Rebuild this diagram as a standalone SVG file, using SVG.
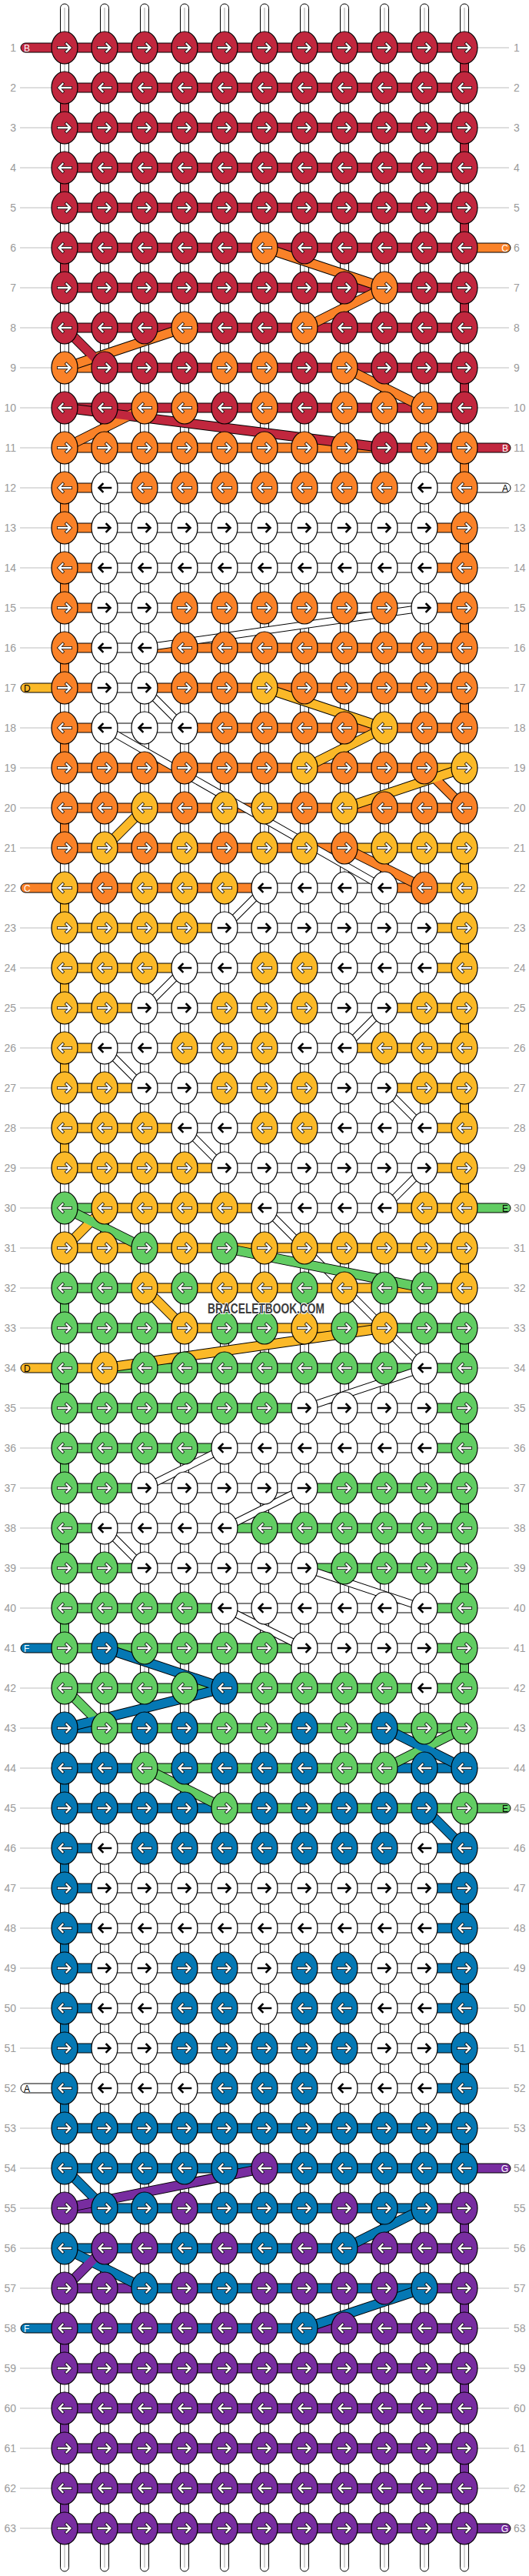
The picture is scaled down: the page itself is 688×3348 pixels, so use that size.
<svg xmlns="http://www.w3.org/2000/svg" xmlns:xlink="http://www.w3.org/1999/xlink" width="688" height="3348" viewBox="0 0 688 3348">
<style>
text{font-family:"Liberation Sans",Arial,sans-serif}
.n{font-size:14px;fill:#9a9a9a}
.nl{text-anchor:end}
.xl{font-size:12px}
.R{fill:#c1273e}.O{fill:#fa8228}.Y{fill:#fbb928}.G{fill:#62cd63}.B{fill:#0578b4}.P{fill:#782da0}.W{fill:#fff}
#weft rect{stroke:#000;stroke-width:1}
.dk{fill:none;stroke:#000;stroke-width:13}
.dc{fill:none;stroke-width:11}
</style>
<defs>
<path id="a" d="M-8,0H6.5M2.5,-5L7.5,0L2.5,5" fill="none" stroke-linecap="square" stroke-linejoin="miter"/>
<g id="aw"><use href="#a" stroke="#000" stroke-width="3.8"/><use href="#a" stroke="#fff" stroke-width="2.3"/></g>
<g id="ab"><use href="#a" stroke="#000" stroke-width="2.6"/></g>
<ellipse id="e" rx="17" ry="21" stroke="#000" stroke-width="1.2"/>
<g id="R1" class="R"><use href="#e"/><use href="#aw"/></g>
<g id="R2" class="R"><use href="#e"/><use href="#aw" transform="scale(-1,1)"/></g>
<g id="O1" class="O"><use href="#e"/><use href="#aw"/></g>
<g id="O2" class="O"><use href="#e"/><use href="#aw" transform="scale(-1,1)"/></g>
<g id="Y1" class="Y"><use href="#e"/><use href="#aw"/></g>
<g id="Y2" class="Y"><use href="#e"/><use href="#aw" transform="scale(-1,1)"/></g>
<g id="G1" class="G"><use href="#e"/><use href="#aw"/></g>
<g id="G2" class="G"><use href="#e"/><use href="#aw" transform="scale(-1,1)"/></g>
<g id="B1" class="B"><use href="#e"/><use href="#aw"/></g>
<g id="B2" class="B"><use href="#e"/><use href="#aw" transform="scale(-1,1)"/></g>
<g id="P1" class="P"><use href="#e"/><use href="#aw"/></g>
<g id="P2" class="P"><use href="#e"/><use href="#aw" transform="scale(-1,1)"/></g>
<g id="W1" class="W"><use href="#e"/><use href="#ab"/></g>
<g id="W2" class="W"><use href="#e"/><use href="#ab" transform="scale(-1,1)"/></g>
<g id="wp"><rect x="-5.5" y="5" width="11" height="3337" rx="5.5" fill="#fff" stroke="#000"/><path d="M0,10V3337" stroke="#c4c4c4" stroke-width="1.5"/></g>
<rect id="es" x="-5.5" y="0" width="11" height="52" stroke="#000"/>
</defs>
<rect width="688" height="3348" fill="#fff"/>
<g id="labels">
<path d="M26,114H67M26,166H67M26,218H67M26,270H67M26,322H67M26,374H67M26,426H67M26,478H67M26,530H67M26,582H67M26,634H67M26,686H67M26,738H67M26,790H67M26,842H67M26,946H67M26,998H67M26,1050H67M26,1102H67M26,1206H67M26,1258H67M26,1310H67M26,1362H67M26,1414H67M26,1466H67M26,1518H67M26,1570H67M26,1622H67M26,1674H67M26,1726H67M26,1830H67M26,1882H67M26,1934H67M26,1986H67M26,2038H67M26,2090H67M26,2194H67M26,2246H67M26,2298H67M26,2350H67M26,2402H67M26,2454H67M26,2506H67M26,2558H67M26,2610H67M26,2662H67M26,2766H67M26,2818H67M26,2870H67M26,2922H67M26,2974H67M26,3078H67M26,3130H67M26,3182H67M26,3234H67M26,3286H67" stroke="#bdbdbd" stroke-width="1"/>
<path d="M621,62H662M621,114H662M621,166H662M621,218H662M621,270H662M621,374H662M621,426H662M621,478H662M621,530H662M621,686H662M621,738H662M621,790H662M621,842H662M621,894H662M621,946H662M621,998H662M621,1050H662M621,1102H662M621,1154H662M621,1206H662M621,1258H662M621,1310H662M621,1362H662M621,1414H662M621,1466H662M621,1518H662M621,1622H662M621,1674H662M621,1726H662M621,1778H662M621,1830H662M621,1882H662M621,1934H662M621,1986H662M621,2038H662M621,2090H662M621,2142H662M621,2194H662M621,2246H662M621,2298H662M621,2402H662M621,2454H662M621,2506H662M621,2558H662M621,2610H662M621,2662H662M621,2714H662M621,2766H662M621,2922H662M621,2974H662M621,3026H662M621,3078H662M621,3130H662M621,3182H662M621,3234H662" stroke="#bdbdbd" stroke-width="1"/>
<g class="n nl">
<text x="21" y="67">1</text><text x="21" y="119">2</text><text x="21" y="171">3</text><text x="21" y="223">4</text><text x="21" y="275">5</text><text x="21" y="327">6</text><text x="21" y="379">7</text><text x="21" y="431">8</text><text x="21" y="483">9</text><text x="21" y="535">10</text><text x="21" y="587">11</text><text x="21" y="639">12</text><text x="21" y="691">13</text><text x="21" y="743">14</text><text x="21" y="795">15</text><text x="21" y="847">16</text><text x="21" y="899">17</text><text x="21" y="951">18</text><text x="21" y="1003">19</text><text x="21" y="1055">20</text><text x="21" y="1107">21</text><text x="21" y="1159">22</text><text x="21" y="1211">23</text><text x="21" y="1263">24</text><text x="21" y="1315">25</text><text x="21" y="1367">26</text><text x="21" y="1419">27</text><text x="21" y="1471">28</text><text x="21" y="1523">29</text><text x="21" y="1575">30</text><text x="21" y="1627">31</text><text x="21" y="1679">32</text><text x="21" y="1731">33</text><text x="21" y="1783">34</text><text x="21" y="1835">35</text><text x="21" y="1887">36</text><text x="21" y="1939">37</text><text x="21" y="1991">38</text><text x="21" y="2043">39</text><text x="21" y="2095">40</text><text x="21" y="2147">41</text><text x="21" y="2199">42</text><text x="21" y="2251">43</text><text x="21" y="2303">44</text><text x="21" y="2355">45</text><text x="21" y="2407">46</text><text x="21" y="2459">47</text><text x="21" y="2511">48</text><text x="21" y="2563">49</text><text x="21" y="2615">50</text><text x="21" y="2667">51</text><text x="21" y="2719">52</text><text x="21" y="2771">53</text><text x="21" y="2823">54</text><text x="21" y="2875">55</text><text x="21" y="2927">56</text><text x="21" y="2979">57</text><text x="21" y="3031">58</text><text x="21" y="3083">59</text><text x="21" y="3135">60</text><text x="21" y="3187">61</text><text x="21" y="3239">62</text><text x="21" y="3291">63</text>
</g>
<g class="n">
<text x="668" y="67">1</text><text x="668" y="119">2</text><text x="668" y="171">3</text><text x="668" y="223">4</text><text x="668" y="275">5</text><text x="668" y="327">6</text><text x="668" y="379">7</text><text x="668" y="431">8</text><text x="668" y="483">9</text><text x="668" y="535">10</text><text x="668" y="587">11</text><text x="668" y="639">12</text><text x="668" y="691">13</text><text x="668" y="743">14</text><text x="668" y="795">15</text><text x="668" y="847">16</text><text x="668" y="899">17</text><text x="668" y="951">18</text><text x="668" y="1003">19</text><text x="668" y="1055">20</text><text x="668" y="1107">21</text><text x="668" y="1159">22</text><text x="668" y="1211">23</text><text x="668" y="1263">24</text><text x="668" y="1315">25</text><text x="668" y="1367">26</text><text x="668" y="1419">27</text><text x="668" y="1471">28</text><text x="668" y="1523">29</text><text x="668" y="1575">30</text><text x="668" y="1627">31</text><text x="668" y="1679">32</text><text x="668" y="1731">33</text><text x="668" y="1783">34</text><text x="668" y="1835">35</text><text x="668" y="1887">36</text><text x="668" y="1939">37</text><text x="668" y="1991">38</text><text x="668" y="2043">39</text><text x="668" y="2095">40</text><text x="668" y="2147">41</text><text x="668" y="2199">42</text><text x="668" y="2251">43</text><text x="668" y="2303">44</text><text x="668" y="2355">45</text><text x="668" y="2407">46</text><text x="668" y="2459">47</text><text x="668" y="2511">48</text><text x="668" y="2563">49</text><text x="668" y="2615">50</text><text x="668" y="2667">51</text><text x="668" y="2719">52</text><text x="668" y="2771">53</text><text x="668" y="2823">54</text><text x="668" y="2875">55</text><text x="668" y="2927">56</text><text x="668" y="2979">57</text><text x="668" y="3031">58</text><text x="668" y="3083">59</text><text x="668" y="3135">60</text><text x="668" y="3187">61</text><text x="668" y="3239">62</text><text x="668" y="3291">63</text>
</g>
</g>
<g id="strands">
<g id="warp"><use href="#wp" x="84"/><use href="#wp" x="136"/><use href="#wp" x="188"/><use href="#wp" x="240"/><use href="#wp" x="292"/><use href="#wp" x="344"/><use href="#wp" x="396"/><use href="#wp" x="448"/><use href="#wp" x="500"/><use href="#wp" x="552"/><use href="#wp" x="604"/></g>
<g id="edges">
<use href="#es" class="R" x="604" y="62"/><use href="#es" class="R" x="84" y="114"/><use href="#es" class="R" x="604" y="166"/><use href="#es" class="R" x="84" y="218"/><use href="#es" class="R" x="604" y="270"/><use href="#es" class="R" x="84" y="322"/><use href="#es" class="R" x="604" y="374"/><use href="#es" class="R" x="604" y="478"/>
<use href="#es" class="O" x="604" y="582"/><use href="#es" class="O" x="84" y="634"/><use href="#es" class="O" x="604" y="686"/><use href="#es" class="O" x="84" y="738"/><use href="#es" class="O" x="604" y="790"/><use href="#es" class="O" x="84" y="842"/><use href="#es" class="O" x="604" y="894"/><use href="#es" class="O" x="84" y="946"/><use href="#es" class="O" x="84" y="1050"/>
<use href="#es" class="Y" x="604" y="1102"/><use href="#es" class="Y" x="84" y="1154"/><use href="#es" class="Y" x="604" y="1206"/><use href="#es" class="Y" x="84" y="1258"/><use href="#es" class="Y" x="604" y="1310"/><use href="#es" class="Y" x="84" y="1362"/><use href="#es" class="Y" x="604" y="1414"/><use href="#es" class="Y" x="84" y="1466"/><use href="#es" class="Y" x="604" y="1518"/><use href="#es" class="Y" x="604" y="1622"/>
<use href="#es" class="G" x="84" y="1674"/><use href="#es" class="G" x="604" y="1726"/><use href="#es" class="G" x="84" y="1778"/><use href="#es" class="G" x="604" y="1830"/><use href="#es" class="G" x="84" y="1882"/><use href="#es" class="G" x="604" y="1934"/><use href="#es" class="G" x="84" y="1986"/><use href="#es" class="G" x="604" y="2038"/><use href="#es" class="G" x="84" y="2090"/><use href="#es" class="G" x="604" y="2142"/>
<use href="#es" class="B" x="84" y="2298"/><use href="#es" class="B" x="84" y="2402"/><use href="#es" class="B" x="604" y="2454"/><use href="#es" class="B" x="84" y="2506"/><use href="#es" class="B" x="604" y="2558"/><use href="#es" class="B" x="84" y="2610"/><use href="#es" class="B" x="604" y="2662"/><use href="#es" class="B" x="84" y="2714"/><use href="#es" class="B" x="604" y="2766"/>
<use href="#es" class="P" x="604" y="2870"/><use href="#es" class="P" x="604" y="2974"/><use href="#es" class="P" x="84" y="3026"/><use href="#es" class="P" x="604" y="3078"/><use href="#es" class="P" x="84" y="3130"/><use href="#es" class="P" x="604" y="3182"/><use href="#es" class="P" x="84" y="3234"/>
</g>
<g id="weft">
<rect class="R" x="27" y="56" width="70" height="12" rx="6"/>
<rect class="O" x="591" y="316" width="73" height="12" rx="6"/>
<rect class="R" x="591" y="576" width="73" height="12" rx="6"/>
<rect class="W" x="591" y="628" width="73" height="12" rx="6"/>
<rect class="Y" x="27" y="888" width="70" height="12" rx="6"/>
<rect class="O" x="27" y="1148" width="70" height="12" rx="6"/>
<rect class="G" x="591" y="1564" width="73" height="12" rx="6"/>
<rect class="Y" x="27" y="1772" width="70" height="12" rx="6"/>
<rect class="B" x="27" y="2136" width="70" height="12" rx="6"/>
<rect class="G" x="591" y="2344" width="73" height="12" rx="6"/>
<rect class="W" x="27" y="2708" width="70" height="12" rx="6"/>
<rect class="P" x="591" y="2812" width="73" height="12" rx="6"/>
<rect class="B" x="27" y="3020" width="70" height="12" rx="6"/>
<rect class="P" x="591" y="3280" width="73" height="12" rx="6"/>
<rect class="R" x="84" y="56" width="520" height="12"/>
<rect class="R" x="84" y="108" width="520" height="12"/>
<rect class="R" x="84" y="160" width="520" height="12"/>
<rect class="R" x="84" y="212" width="520" height="12"/>
<rect class="R" x="84" y="264" width="520" height="12"/>
<rect class="R" x="84" y="316" width="520" height="12"/>
<rect class="R" x="84" y="368" width="520" height="12"/>
<rect class="R" x="84" y="420" width="520" height="12"/>
<rect class="O" x="84" y="472" width="52" height="12"/><rect class="R" x="136" y="472" width="468" height="12"/>
<rect class="R" x="84" y="524" width="520" height="12"/>
<rect class="O" x="84" y="576" width="416" height="12"/><rect class="R" x="500" y="576" width="104" height="12"/>
<rect class="O" x="84" y="628" width="52" height="12"/><rect class="W" x="136" y="628" width="468" height="12"/>
<rect class="O" x="84" y="680" width="52" height="12"/><rect class="W" x="136" y="680" width="416" height="12"/><rect class="O" x="552" y="680" width="52" height="12"/>
<rect class="O" x="84" y="732" width="52" height="12"/><rect class="W" x="136" y="732" width="416" height="12"/><rect class="O" x="552" y="732" width="52" height="12"/>
<rect class="O" x="84" y="784" width="52" height="12"/><rect class="W" x="136" y="784" width="416" height="12"/><rect class="O" x="552" y="784" width="52" height="12"/>
<rect class="O" x="84" y="836" width="52" height="12"/><rect class="W" x="136" y="836" width="52" height="12"/><rect class="O" x="188" y="836" width="416" height="12"/>
<rect class="O" x="84" y="888" width="52" height="12"/><rect class="W" x="136" y="888" width="52" height="12"/><rect class="O" x="188" y="888" width="416" height="12"/>
<rect class="O" x="84" y="940" width="52" height="12"/><rect class="W" x="136" y="940" width="104" height="12"/><rect class="O" x="240" y="940" width="364" height="12"/>
<rect class="O" x="84" y="992" width="468" height="12"/><rect class="Y" x="552" y="992" width="52" height="12"/>
<rect class="O" x="84" y="1044" width="520" height="12"/>
<rect class="O" x="84" y="1096" width="364" height="12"/><rect class="Y" x="448" y="1096" width="156" height="12"/>
<rect class="O" x="84" y="1148" width="260" height="12"/><rect class="W" x="344" y="1148" width="156" height="12"/><rect class="O" x="500" y="1148" width="52" height="12"/><rect class="Y" x="552" y="1148" width="52" height="12"/>
<rect class="Y" x="84" y="1200" width="208" height="12"/><rect class="W" x="292" y="1200" width="260" height="12"/><rect class="Y" x="552" y="1200" width="52" height="12"/>
<rect class="Y" x="84" y="1252" width="156" height="12"/><rect class="W" x="240" y="1252" width="312" height="12"/><rect class="Y" x="552" y="1252" width="52" height="12"/>
<rect class="Y" x="84" y="1304" width="104" height="12"/><rect class="W" x="188" y="1304" width="312" height="12"/><rect class="Y" x="500" y="1304" width="104" height="12"/>
<rect class="Y" x="84" y="1356" width="52" height="12"/><rect class="W" x="136" y="1356" width="312" height="12"/><rect class="Y" x="448" y="1356" width="156" height="12"/>
<rect class="Y" x="84" y="1408" width="104" height="12"/><rect class="W" x="188" y="1408" width="312" height="12"/><rect class="Y" x="500" y="1408" width="104" height="12"/>
<rect class="Y" x="84" y="1460" width="156" height="12"/><rect class="W" x="240" y="1460" width="312" height="12"/><rect class="Y" x="552" y="1460" width="52" height="12"/>
<rect class="Y" x="84" y="1512" width="208" height="12"/><rect class="W" x="292" y="1512" width="260" height="12"/><rect class="Y" x="552" y="1512" width="52" height="12"/>
<rect class="G" x="84" y="1564" width="52" height="12"/><rect class="Y" x="136" y="1564" width="208" height="12"/><rect class="W" x="344" y="1564" width="156" height="12"/><rect class="Y" x="500" y="1564" width="104" height="12"/>
<rect class="Y" x="84" y="1616" width="520" height="12"/>
<rect class="G" x="84" y="1668" width="104" height="12"/><rect class="Y" x="188" y="1668" width="416" height="12"/>
<rect class="G" x="84" y="1720" width="156" height="12"/><rect class="Y" x="240" y="1720" width="52" height="12"/><rect class="G" x="292" y="1720" width="52" height="12"/><rect class="Y" x="344" y="1720" width="156" height="12"/><rect class="G" x="500" y="1720" width="104" height="12"/>
<rect class="Y" x="84" y="1772" width="52" height="12"/><rect class="G" x="136" y="1772" width="468" height="12"/>
<rect class="G" x="84" y="1824" width="312" height="12"/><rect class="W" x="396" y="1824" width="156" height="12"/><rect class="G" x="552" y="1824" width="52" height="12"/>
<rect class="G" x="84" y="1876" width="208" height="12"/><rect class="W" x="292" y="1876" width="260" height="12"/><rect class="G" x="552" y="1876" width="52" height="12"/>
<rect class="G" x="84" y="1928" width="104" height="12"/><rect class="W" x="188" y="1928" width="208" height="12"/><rect class="G" x="396" y="1928" width="208" height="12"/>
<rect class="G" x="84" y="1980" width="52" height="12"/><rect class="W" x="136" y="1980" width="156" height="12"/><rect class="G" x="292" y="1980" width="312" height="12"/>
<rect class="G" x="84" y="2032" width="104" height="12"/><rect class="W" x="188" y="2032" width="208" height="12"/><rect class="G" x="396" y="2032" width="208" height="12"/>
<rect class="G" x="84" y="2084" width="208" height="12"/><rect class="W" x="292" y="2084" width="260" height="12"/><rect class="G" x="552" y="2084" width="52" height="12"/>
<rect class="G" x="84" y="2136" width="312" height="12"/><rect class="W" x="396" y="2136" width="156" height="12"/><rect class="G" x="552" y="2136" width="52" height="12"/>
<rect class="G" x="84" y="2188" width="520" height="12"/>
<rect class="B" x="84" y="2240" width="52" height="12"/><rect class="G" x="136" y="2240" width="468" height="12"/>
<rect class="B" x="84" y="2292" width="104" height="12"/><rect class="G" x="188" y="2292" width="312" height="12"/><rect class="B" x="500" y="2292" width="104" height="12"/>
<rect class="B" x="84" y="2344" width="208" height="12"/><rect class="G" x="292" y="2344" width="312" height="12"/>
<rect class="B" x="84" y="2396" width="52" height="12"/><rect class="W" x="136" y="2396" width="416" height="12"/><rect class="B" x="552" y="2396" width="52" height="12"/>
<rect class="B" x="84" y="2448" width="52" height="12"/><rect class="W" x="136" y="2448" width="416" height="12"/><rect class="B" x="552" y="2448" width="52" height="12"/>
<rect class="B" x="84" y="2500" width="52" height="12"/><rect class="W" x="136" y="2500" width="416" height="12"/><rect class="B" x="552" y="2500" width="52" height="12"/>
<rect class="B" x="84" y="2552" width="52" height="12"/><rect class="W" x="136" y="2552" width="416" height="12"/><rect class="B" x="552" y="2552" width="52" height="12"/>
<rect class="B" x="84" y="2604" width="52" height="12"/><rect class="W" x="136" y="2604" width="416" height="12"/><rect class="B" x="552" y="2604" width="52" height="12"/>
<rect class="B" x="84" y="2656" width="52" height="12"/><rect class="W" x="136" y="2656" width="416" height="12"/><rect class="B" x="552" y="2656" width="52" height="12"/>
<rect class="W" x="84" y="2708" width="468" height="12"/><rect class="B" x="552" y="2708" width="52" height="12"/>
<rect class="B" x="84" y="2760" width="520" height="12"/>
<rect class="B" x="84" y="2812" width="520" height="12"/>
<rect class="P" x="84" y="2864" width="52" height="12"/><rect class="B" x="136" y="2864" width="416" height="12"/><rect class="P" x="552" y="2864" width="52" height="12"/>
<rect class="B" x="84" y="2916" width="364" height="12"/><rect class="P" x="448" y="2916" width="156" height="12"/>
<rect class="P" x="84" y="2968" width="104" height="12"/><rect class="B" x="188" y="2968" width="364" height="12"/><rect class="P" x="552" y="2968" width="52" height="12"/>
<rect class="B" x="84" y="3020" width="312" height="12"/><rect class="P" x="396" y="3020" width="208" height="12"/>
<rect class="P" x="84" y="3072" width="520" height="12"/>
<rect class="P" x="84" y="3124" width="520" height="12"/>
<rect class="P" x="84" y="3176" width="520" height="12"/>
<rect class="P" x="84" y="3228" width="520" height="12"/>
<rect class="P" x="84" y="3280" width="520" height="12"/>
</g>
<g id="jumps">
<path d="M552,790L188,842M188,894L240,946M136,946L500,1154M344,1154L292,1206M240,1258L188,1310M500,1310L448,1362M136,1362L188,1414M500,1414L552,1466M240,1466L292,1518M552,1518L500,1570M344,1570L552,1778M552,1778L396,1830M292,1882L188,1934M396,1934L292,1986M136,1986L188,2038M396,2038L552,2090M292,2090L396,2142" fill="none" stroke="#000" stroke-width="10"/>
<path d="M552,790L188,842M188,894L240,946M136,946L500,1154M344,1154L292,1206M240,1258L188,1310M500,1310L448,1362M136,1362L188,1414M500,1414L552,1466M240,1466L292,1518M552,1518L500,1570M344,1570L552,1778M552,1778L396,1830M292,1882L188,1934M396,1934L292,1986M136,1986L188,2038M396,2038L552,2090M292,2090L396,2142" fill="none" stroke="#fff" stroke-width="8"/>
<path class="dk" d="M344,322L500,374M500,374L396,426M240,426L84,478M448,478L552,530M188,530L84,582M552,998L604,1050M448,1102L552,1154M84,426L136,478M84,530L500,582M344,894L500,946M500,946L396,998M604,998L448,1050M188,1050L136,1102M136,1570L84,1622M188,1674L240,1726M500,1726L136,1778M84,1570L188,1622M292,1622L552,1674M84,2194L136,2246M604,2246L500,2298M188,2298L292,2350M136,2142L292,2194M292,2194L84,2246M500,2246L604,2298M552,2350L604,2402M84,2818L136,2870M552,2870L448,2922M84,2922L188,2974M552,2974L396,3026M344,2818L84,2870M136,2922L84,2974"/>
<path class="dc" stroke="#fa8228" d="M344,322L500,374M500,374L396,426M240,426L84,478M448,478L552,530M188,530L84,582M552,998L604,1050M448,1102L552,1154"/>
<path class="dc" stroke="#c1273e" d="M84,426L136,478M84,530L500,582"/>
<path class="dc" stroke="#fbb928" d="M344,894L500,946M500,946L396,998M604,998L448,1050M188,1050L136,1102M136,1570L84,1622M188,1674L240,1726M500,1726L136,1778"/>
<path class="dc" stroke="#62cd63" d="M84,1570L188,1622M292,1622L552,1674M84,2194L136,2246M604,2246L500,2298M188,2298L292,2350"/>
<path class="dc" stroke="#0578b4" d="M136,2142L292,2194M292,2194L84,2246M500,2246L604,2298M552,2350L604,2402M84,2818L136,2870M552,2870L448,2922M84,2922L188,2974M552,2974L396,3026"/>
<path class="dc" stroke="#782da0" d="M344,2818L84,2870M136,2922L84,2974"/>
</g>
</g>
<g id="knots">
<g id="row1" transform="translate(0,62)"><use id="k1-1" href="#R1" x="84"/><use id="k1-2" href="#R1" x="136"/><use id="k1-3" href="#R1" x="188"/><use id="k1-4" href="#R1" x="240"/><use id="k1-5" href="#R1" x="292"/><use id="k1-6" href="#R1" x="344"/><use id="k1-7" href="#R1" x="396"/><use id="k1-8" href="#R1" x="448"/><use id="k1-9" href="#R1" x="500"/><use id="k1-10" href="#R1" x="552"/><use id="k1-11" href="#R1" x="604"/></g>
<g id="row2" transform="translate(0,114)"><use id="k2-1" href="#R2" x="84"/><use id="k2-2" href="#R2" x="136"/><use id="k2-3" href="#R2" x="188"/><use id="k2-4" href="#R2" x="240"/><use id="k2-5" href="#R2" x="292"/><use id="k2-6" href="#R2" x="344"/><use id="k2-7" href="#R2" x="396"/><use id="k2-8" href="#R2" x="448"/><use id="k2-9" href="#R2" x="500"/><use id="k2-10" href="#R2" x="552"/><use id="k2-11" href="#R2" x="604"/></g>
<g id="row3" transform="translate(0,166)"><use id="k3-1" href="#R1" x="84"/><use id="k3-2" href="#R1" x="136"/><use id="k3-3" href="#R1" x="188"/><use id="k3-4" href="#R1" x="240"/><use id="k3-5" href="#R1" x="292"/><use id="k3-6" href="#R1" x="344"/><use id="k3-7" href="#R1" x="396"/><use id="k3-8" href="#R1" x="448"/><use id="k3-9" href="#R1" x="500"/><use id="k3-10" href="#R1" x="552"/><use id="k3-11" href="#R1" x="604"/></g>
<g id="row4" transform="translate(0,218)"><use id="k4-1" href="#R2" x="84"/><use id="k4-2" href="#R2" x="136"/><use id="k4-3" href="#R2" x="188"/><use id="k4-4" href="#R2" x="240"/><use id="k4-5" href="#R2" x="292"/><use id="k4-6" href="#R2" x="344"/><use id="k4-7" href="#R2" x="396"/><use id="k4-8" href="#R2" x="448"/><use id="k4-9" href="#R2" x="500"/><use id="k4-10" href="#R2" x="552"/><use id="k4-11" href="#R2" x="604"/></g>
<g id="row5" transform="translate(0,270)"><use id="k5-1" href="#R1" x="84"/><use id="k5-2" href="#R1" x="136"/><use id="k5-3" href="#R1" x="188"/><use id="k5-4" href="#R1" x="240"/><use id="k5-5" href="#R1" x="292"/><use id="k5-6" href="#R1" x="344"/><use id="k5-7" href="#R1" x="396"/><use id="k5-8" href="#R1" x="448"/><use id="k5-9" href="#R1" x="500"/><use id="k5-10" href="#R1" x="552"/><use id="k5-11" href="#R1" x="604"/></g>
<g id="row6" transform="translate(0,322)"><use id="k6-1" href="#R2" x="84"/><use id="k6-2" href="#R2" x="136"/><use id="k6-3" href="#R2" x="188"/><use id="k6-4" href="#R2" x="240"/><use id="k6-5" href="#R2" x="292"/><use id="k6-6" href="#O2" x="344"/><use id="k6-7" href="#R2" x="396"/><use id="k6-8" href="#R2" x="448"/><use id="k6-9" href="#R2" x="500"/><use id="k6-10" href="#R2" x="552"/><use id="k6-11" href="#R2" x="604"/></g>
<g id="row7" transform="translate(0,374)"><use id="k7-1" href="#R1" x="84"/><use id="k7-2" href="#R1" x="136"/><use id="k7-3" href="#R1" x="188"/><use id="k7-4" href="#R1" x="240"/><use id="k7-5" href="#R1" x="292"/><use id="k7-6" href="#R1" x="344"/><use id="k7-7" href="#R1" x="396"/><use id="k7-8" href="#R1" x="448"/><use id="k7-9" href="#O1" x="500"/><use id="k7-10" href="#R1" x="552"/><use id="k7-11" href="#R1" x="604"/></g>
<g id="row8" transform="translate(0,426)"><use id="k8-1" href="#R2" x="84"/><use id="k8-2" href="#R2" x="136"/><use id="k8-3" href="#R2" x="188"/><use id="k8-4" href="#O2" x="240"/><use id="k8-5" href="#R2" x="292"/><use id="k8-6" href="#R2" x="344"/><use id="k8-7" href="#O2" x="396"/><use id="k8-8" href="#R2" x="448"/><use id="k8-9" href="#R2" x="500"/><use id="k8-10" href="#R2" x="552"/><use id="k8-11" href="#R2" x="604"/></g>
<g id="row9" transform="translate(0,478)"><use id="k9-1" href="#O1" x="84"/><use id="k9-2" href="#R1" x="136"/><use id="k9-3" href="#R1" x="188"/><use id="k9-4" href="#R1" x="240"/><use id="k9-5" href="#O1" x="292"/><use id="k9-6" href="#O1" x="344"/><use id="k9-7" href="#R1" x="396"/><use id="k9-8" href="#O1" x="448"/><use id="k9-9" href="#R1" x="500"/><use id="k9-10" href="#R1" x="552"/><use id="k9-11" href="#R1" x="604"/></g>
<g id="row10" transform="translate(0,530)"><use id="k10-1" href="#R2" x="84"/><use id="k10-2" href="#R2" x="136"/><use id="k10-3" href="#O2" x="188"/><use id="k10-4" href="#O2" x="240"/><use id="k10-5" href="#R2" x="292"/><use id="k10-6" href="#O2" x="344"/><use id="k10-7" href="#R2" x="396"/><use id="k10-8" href="#O2" x="448"/><use id="k10-9" href="#O2" x="500"/><use id="k10-10" href="#O2" x="552"/><use id="k10-11" href="#R2" x="604"/></g>
<g id="row11" transform="translate(0,582)"><use id="k11-1" href="#O1" x="84"/><use id="k11-2" href="#O1" x="136"/><use id="k11-3" href="#O1" x="188"/><use id="k11-4" href="#O1" x="240"/><use id="k11-5" href="#O1" x="292"/><use id="k11-6" href="#O1" x="344"/><use id="k11-7" href="#O1" x="396"/><use id="k11-8" href="#O1" x="448"/><use id="k11-9" href="#R1" x="500"/><use id="k11-10" href="#O1" x="552"/><use id="k11-11" href="#O1" x="604"/></g>
<g id="row12" transform="translate(0,634)"><use id="k12-1" href="#O2" x="84"/><use id="k12-2" href="#W2" x="136"/><use id="k12-3" href="#O2" x="188"/><use id="k12-4" href="#O2" x="240"/><use id="k12-5" href="#O2" x="292"/><use id="k12-6" href="#O2" x="344"/><use id="k12-7" href="#O2" x="396"/><use id="k12-8" href="#O2" x="448"/><use id="k12-9" href="#O2" x="500"/><use id="k12-10" href="#W2" x="552"/><use id="k12-11" href="#O2" x="604"/></g>
<g id="row13" transform="translate(0,686)"><use id="k13-1" href="#O1" x="84"/><use id="k13-2" href="#W1" x="136"/><use id="k13-3" href="#W1" x="188"/><use id="k13-4" href="#W1" x="240"/><use id="k13-5" href="#W1" x="292"/><use id="k13-6" href="#W1" x="344"/><use id="k13-7" href="#W1" x="396"/><use id="k13-8" href="#W1" x="448"/><use id="k13-9" href="#W1" x="500"/><use id="k13-10" href="#W1" x="552"/><use id="k13-11" href="#O1" x="604"/></g>
<g id="row14" transform="translate(0,738)"><use id="k14-1" href="#O2" x="84"/><use id="k14-2" href="#W2" x="136"/><use id="k14-3" href="#W2" x="188"/><use id="k14-4" href="#W2" x="240"/><use id="k14-5" href="#W2" x="292"/><use id="k14-6" href="#W2" x="344"/><use id="k14-7" href="#W2" x="396"/><use id="k14-8" href="#W2" x="448"/><use id="k14-9" href="#W2" x="500"/><use id="k14-10" href="#W2" x="552"/><use id="k14-11" href="#O2" x="604"/></g>
<g id="row15" transform="translate(0,790)"><use id="k15-1" href="#O1" x="84"/><use id="k15-2" href="#W1" x="136"/><use id="k15-3" href="#W1" x="188"/><use id="k15-4" href="#O1" x="240"/><use id="k15-5" href="#O1" x="292"/><use id="k15-6" href="#O1" x="344"/><use id="k15-7" href="#O1" x="396"/><use id="k15-8" href="#O1" x="448"/><use id="k15-9" href="#O1" x="500"/><use id="k15-10" href="#W1" x="552"/><use id="k15-11" href="#O1" x="604"/></g>
<g id="row16" transform="translate(0,842)"><use id="k16-1" href="#O2" x="84"/><use id="k16-2" href="#W2" x="136"/><use id="k16-3" href="#W2" x="188"/><use id="k16-4" href="#O2" x="240"/><use id="k16-5" href="#O2" x="292"/><use id="k16-6" href="#O2" x="344"/><use id="k16-7" href="#O2" x="396"/><use id="k16-8" href="#O2" x="448"/><use id="k16-9" href="#O2" x="500"/><use id="k16-10" href="#O2" x="552"/><use id="k16-11" href="#O2" x="604"/></g>
<g id="row17" transform="translate(0,894)"><use id="k17-1" href="#O1" x="84"/><use id="k17-2" href="#W1" x="136"/><use id="k17-3" href="#W1" x="188"/><use id="k17-4" href="#O1" x="240"/><use id="k17-5" href="#O1" x="292"/><use id="k17-6" href="#Y1" x="344"/><use id="k17-7" href="#O1" x="396"/><use id="k17-8" href="#O1" x="448"/><use id="k17-9" href="#O1" x="500"/><use id="k17-10" href="#O1" x="552"/><use id="k17-11" href="#O1" x="604"/></g>
<g id="row18" transform="translate(0,946)"><use id="k18-1" href="#O2" x="84"/><use id="k18-2" href="#W2" x="136"/><use id="k18-3" href="#W2" x="188"/><use id="k18-4" href="#W2" x="240"/><use id="k18-5" href="#O2" x="292"/><use id="k18-6" href="#O2" x="344"/><use id="k18-7" href="#O2" x="396"/><use id="k18-8" href="#O2" x="448"/><use id="k18-9" href="#Y2" x="500"/><use id="k18-10" href="#O2" x="552"/><use id="k18-11" href="#O2" x="604"/></g>
<g id="row19" transform="translate(0,998)"><use id="k19-1" href="#O1" x="84"/><use id="k19-2" href="#O1" x="136"/><use id="k19-3" href="#O1" x="188"/><use id="k19-4" href="#O1" x="240"/><use id="k19-5" href="#O1" x="292"/><use id="k19-6" href="#O1" x="344"/><use id="k19-7" href="#Y1" x="396"/><use id="k19-8" href="#O1" x="448"/><use id="k19-9" href="#O1" x="500"/><use id="k19-10" href="#O1" x="552"/><use id="k19-11" href="#Y1" x="604"/></g>
<g id="row20" transform="translate(0,1050)"><use id="k20-1" href="#O2" x="84"/><use id="k20-2" href="#O2" x="136"/><use id="k20-3" href="#Y2" x="188"/><use id="k20-4" href="#O2" x="240"/><use id="k20-5" href="#Y2" x="292"/><use id="k20-6" href="#Y2" x="344"/><use id="k20-7" href="#O2" x="396"/><use id="k20-8" href="#Y2" x="448"/><use id="k20-9" href="#O2" x="500"/><use id="k20-10" href="#O2" x="552"/><use id="k20-11" href="#O2" x="604"/></g>
<g id="row21" transform="translate(0,1102)"><use id="k21-1" href="#O1" x="84"/><use id="k21-2" href="#Y1" x="136"/><use id="k21-3" href="#O1" x="188"/><use id="k21-4" href="#Y1" x="240"/><use id="k21-5" href="#O1" x="292"/><use id="k21-6" href="#Y1" x="344"/><use id="k21-7" href="#Y1" x="396"/><use id="k21-8" href="#O1" x="448"/><use id="k21-9" href="#Y1" x="500"/><use id="k21-10" href="#Y1" x="552"/><use id="k21-11" href="#Y1" x="604"/></g>
<g id="row22" transform="translate(0,1154)"><use id="k22-1" href="#Y2" x="84"/><use id="k22-2" href="#O2" x="136"/><use id="k22-3" href="#Y2" x="188"/><use id="k22-4" href="#Y2" x="240"/><use id="k22-5" href="#Y2" x="292"/><use id="k22-6" href="#W2" x="344"/><use id="k22-7" href="#W2" x="396"/><use id="k22-8" href="#W2" x="448"/><use id="k22-9" href="#W2" x="500"/><use id="k22-10" href="#O2" x="552"/><use id="k22-11" href="#Y2" x="604"/></g>
<g id="row23" transform="translate(0,1206)"><use id="k23-1" href="#Y1" x="84"/><use id="k23-2" href="#Y1" x="136"/><use id="k23-3" href="#Y1" x="188"/><use id="k23-4" href="#Y1" x="240"/><use id="k23-5" href="#W1" x="292"/><use id="k23-6" href="#W1" x="344"/><use id="k23-7" href="#W1" x="396"/><use id="k23-8" href="#W1" x="448"/><use id="k23-9" href="#W1" x="500"/><use id="k23-10" href="#W1" x="552"/><use id="k23-11" href="#Y1" x="604"/></g>
<g id="row24" transform="translate(0,1258)"><use id="k24-1" href="#Y2" x="84"/><use id="k24-2" href="#Y2" x="136"/><use id="k24-3" href="#Y2" x="188"/><use id="k24-4" href="#W2" x="240"/><use id="k24-5" href="#W2" x="292"/><use id="k24-6" href="#Y2" x="344"/><use id="k24-7" href="#Y2" x="396"/><use id="k24-8" href="#W2" x="448"/><use id="k24-9" href="#W2" x="500"/><use id="k24-10" href="#W2" x="552"/><use id="k24-11" href="#Y2" x="604"/></g>
<g id="row25" transform="translate(0,1310)"><use id="k25-1" href="#Y1" x="84"/><use id="k25-2" href="#Y1" x="136"/><use id="k25-3" href="#W1" x="188"/><use id="k25-4" href="#W1" x="240"/><use id="k25-5" href="#Y1" x="292"/><use id="k25-6" href="#Y1" x="344"/><use id="k25-7" href="#Y1" x="396"/><use id="k25-8" href="#W1" x="448"/><use id="k25-9" href="#W1" x="500"/><use id="k25-10" href="#Y1" x="552"/><use id="k25-11" href="#Y1" x="604"/></g>
<g id="row26" transform="translate(0,1362)"><use id="k26-1" href="#Y2" x="84"/><use id="k26-2" href="#W2" x="136"/><use id="k26-3" href="#W2" x="188"/><use id="k26-4" href="#Y2" x="240"/><use id="k26-5" href="#Y2" x="292"/><use id="k26-6" href="#Y2" x="344"/><use id="k26-7" href="#W2" x="396"/><use id="k26-8" href="#W2" x="448"/><use id="k26-9" href="#Y2" x="500"/><use id="k26-10" href="#Y2" x="552"/><use id="k26-11" href="#Y2" x="604"/></g>
<g id="row27" transform="translate(0,1414)"><use id="k27-1" href="#Y1" x="84"/><use id="k27-2" href="#Y1" x="136"/><use id="k27-3" href="#W1" x="188"/><use id="k27-4" href="#W1" x="240"/><use id="k27-5" href="#Y1" x="292"/><use id="k27-6" href="#Y1" x="344"/><use id="k27-7" href="#Y1" x="396"/><use id="k27-8" href="#W1" x="448"/><use id="k27-9" href="#W1" x="500"/><use id="k27-10" href="#Y1" x="552"/><use id="k27-11" href="#Y1" x="604"/></g>
<g id="row28" transform="translate(0,1466)"><use id="k28-1" href="#Y2" x="84"/><use id="k28-2" href="#Y2" x="136"/><use id="k28-3" href="#Y2" x="188"/><use id="k28-4" href="#W2" x="240"/><use id="k28-5" href="#W2" x="292"/><use id="k28-6" href="#Y2" x="344"/><use id="k28-7" href="#Y2" x="396"/><use id="k28-8" href="#W2" x="448"/><use id="k28-9" href="#W2" x="500"/><use id="k28-10" href="#W2" x="552"/><use id="k28-11" href="#Y2" x="604"/></g>
<g id="row29" transform="translate(0,1518)"><use id="k29-1" href="#Y1" x="84"/><use id="k29-2" href="#Y1" x="136"/><use id="k29-3" href="#Y1" x="188"/><use id="k29-4" href="#Y1" x="240"/><use id="k29-5" href="#W1" x="292"/><use id="k29-6" href="#W1" x="344"/><use id="k29-7" href="#W1" x="396"/><use id="k29-8" href="#W1" x="448"/><use id="k29-9" href="#W1" x="500"/><use id="k29-10" href="#W1" x="552"/><use id="k29-11" href="#Y1" x="604"/></g>
<g id="row30" transform="translate(0,1570)"><use id="k30-1" href="#G2" x="84"/><use id="k30-2" href="#Y2" x="136"/><use id="k30-3" href="#Y2" x="188"/><use id="k30-4" href="#Y2" x="240"/><use id="k30-5" href="#Y2" x="292"/><use id="k30-6" href="#W2" x="344"/><use id="k30-7" href="#W2" x="396"/><use id="k30-8" href="#W2" x="448"/><use id="k30-9" href="#W2" x="500"/><use id="k30-10" href="#Y2" x="552"/><use id="k30-11" href="#Y2" x="604"/></g>
<g id="row31" transform="translate(0,1622)"><use id="k31-1" href="#Y1" x="84"/><use id="k31-2" href="#Y1" x="136"/><use id="k31-3" href="#G1" x="188"/><use id="k31-4" href="#Y1" x="240"/><use id="k31-5" href="#G1" x="292"/><use id="k31-6" href="#Y1" x="344"/><use id="k31-7" href="#Y1" x="396"/><use id="k31-8" href="#Y1" x="448"/><use id="k31-9" href="#Y1" x="500"/><use id="k31-10" href="#Y1" x="552"/><use id="k31-11" href="#Y1" x="604"/></g>
<g id="row32" transform="translate(0,1674)"><use id="k32-1" href="#G2" x="84"/><use id="k32-2" href="#G2" x="136"/><use id="k32-3" href="#Y2" x="188"/><use id="k32-4" href="#G2" x="240"/><use id="k32-5" href="#Y2" x="292"/><use id="k32-6" href="#Y2" x="344"/><use id="k32-7" href="#G2" x="396"/><use id="k32-8" href="#Y2" x="448"/><use id="k32-9" href="#G2" x="500"/><use id="k32-10" href="#G2" x="552"/><use id="k32-11" href="#Y2" x="604"/></g>
<g id="row33" transform="translate(0,1726)"><use id="k33-1" href="#G1" x="84"/><use id="k33-2" href="#G1" x="136"/><use id="k33-3" href="#G1" x="188"/><use id="k33-4" href="#Y1" x="240"/><use id="k33-5" href="#G1" x="292"/><use id="k33-6" href="#G1" x="344"/><use id="k33-7" href="#Y1" x="396"/><use id="k33-8" href="#G1" x="448"/><use id="k33-9" href="#Y1" x="500"/><use id="k33-10" href="#G1" x="552"/><use id="k33-11" href="#G1" x="604"/></g>
<g id="row34" transform="translate(0,1778)"><use id="k34-1" href="#G2" x="84"/><use id="k34-2" href="#Y2" x="136"/><use id="k34-3" href="#G2" x="188"/><use id="k34-4" href="#G2" x="240"/><use id="k34-5" href="#G2" x="292"/><use id="k34-6" href="#G2" x="344"/><use id="k34-7" href="#G2" x="396"/><use id="k34-8" href="#G2" x="448"/><use id="k34-9" href="#G2" x="500"/><use id="k34-10" href="#W2" x="552"/><use id="k34-11" href="#G2" x="604"/></g>
<g id="row35" transform="translate(0,1830)"><use id="k35-1" href="#G1" x="84"/><use id="k35-2" href="#G1" x="136"/><use id="k35-3" href="#G1" x="188"/><use id="k35-4" href="#G1" x="240"/><use id="k35-5" href="#G1" x="292"/><use id="k35-6" href="#G1" x="344"/><use id="k35-7" href="#W1" x="396"/><use id="k35-8" href="#W1" x="448"/><use id="k35-9" href="#W1" x="500"/><use id="k35-10" href="#W1" x="552"/><use id="k35-11" href="#G1" x="604"/></g>
<g id="row36" transform="translate(0,1882)"><use id="k36-1" href="#G2" x="84"/><use id="k36-2" href="#G2" x="136"/><use id="k36-3" href="#G2" x="188"/><use id="k36-4" href="#G2" x="240"/><use id="k36-5" href="#W2" x="292"/><use id="k36-6" href="#W2" x="344"/><use id="k36-7" href="#W2" x="396"/><use id="k36-8" href="#W2" x="448"/><use id="k36-9" href="#W2" x="500"/><use id="k36-10" href="#W2" x="552"/><use id="k36-11" href="#G2" x="604"/></g>
<g id="row37" transform="translate(0,1934)"><use id="k37-1" href="#G1" x="84"/><use id="k37-2" href="#G1" x="136"/><use id="k37-3" href="#W1" x="188"/><use id="k37-4" href="#W1" x="240"/><use id="k37-5" href="#W1" x="292"/><use id="k37-6" href="#W1" x="344"/><use id="k37-7" href="#W1" x="396"/><use id="k37-8" href="#G1" x="448"/><use id="k37-9" href="#G1" x="500"/><use id="k37-10" href="#G1" x="552"/><use id="k37-11" href="#G1" x="604"/></g>
<g id="row38" transform="translate(0,1986)"><use id="k38-1" href="#G2" x="84"/><use id="k38-2" href="#W2" x="136"/><use id="k38-3" href="#W2" x="188"/><use id="k38-4" href="#W2" x="240"/><use id="k38-5" href="#W2" x="292"/><use id="k38-6" href="#G2" x="344"/><use id="k38-7" href="#G2" x="396"/><use id="k38-8" href="#G2" x="448"/><use id="k38-9" href="#G2" x="500"/><use id="k38-10" href="#G2" x="552"/><use id="k38-11" href="#G2" x="604"/></g>
<g id="row39" transform="translate(0,2038)"><use id="k39-1" href="#G1" x="84"/><use id="k39-2" href="#G1" x="136"/><use id="k39-3" href="#W1" x="188"/><use id="k39-4" href="#W1" x="240"/><use id="k39-5" href="#W1" x="292"/><use id="k39-6" href="#W1" x="344"/><use id="k39-7" href="#W1" x="396"/><use id="k39-8" href="#G1" x="448"/><use id="k39-9" href="#G1" x="500"/><use id="k39-10" href="#G1" x="552"/><use id="k39-11" href="#G1" x="604"/></g>
<g id="row40" transform="translate(0,2090)"><use id="k40-1" href="#G2" x="84"/><use id="k40-2" href="#G2" x="136"/><use id="k40-3" href="#G2" x="188"/><use id="k40-4" href="#G2" x="240"/><use id="k40-5" href="#W2" x="292"/><use id="k40-6" href="#W2" x="344"/><use id="k40-7" href="#W2" x="396"/><use id="k40-8" href="#W2" x="448"/><use id="k40-9" href="#W2" x="500"/><use id="k40-10" href="#W2" x="552"/><use id="k40-11" href="#G2" x="604"/></g>
<g id="row41" transform="translate(0,2142)"><use id="k41-1" href="#G1" x="84"/><use id="k41-2" href="#B1" x="136"/><use id="k41-3" href="#G1" x="188"/><use id="k41-4" href="#G1" x="240"/><use id="k41-5" href="#G1" x="292"/><use id="k41-6" href="#G1" x="344"/><use id="k41-7" href="#W1" x="396"/><use id="k41-8" href="#W1" x="448"/><use id="k41-9" href="#W1" x="500"/><use id="k41-10" href="#W1" x="552"/><use id="k41-11" href="#G1" x="604"/></g>
<g id="row42" transform="translate(0,2194)"><use id="k42-1" href="#G2" x="84"/><use id="k42-2" href="#G2" x="136"/><use id="k42-3" href="#G2" x="188"/><use id="k42-4" href="#G2" x="240"/><use id="k42-5" href="#B2" x="292"/><use id="k42-6" href="#G2" x="344"/><use id="k42-7" href="#G2" x="396"/><use id="k42-8" href="#G2" x="448"/><use id="k42-9" href="#G2" x="500"/><use id="k42-10" href="#W2" x="552"/><use id="k42-11" href="#G2" x="604"/></g>
<g id="row43" transform="translate(0,2246)"><use id="k43-1" href="#B1" x="84"/><use id="k43-2" href="#G1" x="136"/><use id="k43-3" href="#B1" x="188"/><use id="k43-4" href="#B1" x="240"/><use id="k43-5" href="#G1" x="292"/><use id="k43-6" href="#G1" x="344"/><use id="k43-7" href="#B1" x="396"/><use id="k43-8" href="#G1" x="448"/><use id="k43-9" href="#B1" x="500"/><use id="k43-10" href="#G1" x="552"/><use id="k43-11" href="#G1" x="604"/></g>
<g id="row44" transform="translate(0,2298)"><use id="k44-1" href="#B2" x="84"/><use id="k44-2" href="#B2" x="136"/><use id="k44-3" href="#G2" x="188"/><use id="k44-4" href="#B2" x="240"/><use id="k44-5" href="#B2" x="292"/><use id="k44-6" href="#B2" x="344"/><use id="k44-7" href="#B2" x="396"/><use id="k44-8" href="#G2" x="448"/><use id="k44-9" href="#G2" x="500"/><use id="k44-10" href="#B2" x="552"/><use id="k44-11" href="#B2" x="604"/></g>
<g id="row45" transform="translate(0,2350)"><use id="k45-1" href="#B1" x="84"/><use id="k45-2" href="#B1" x="136"/><use id="k45-3" href="#B1" x="188"/><use id="k45-4" href="#B1" x="240"/><use id="k45-5" href="#G1" x="292"/><use id="k45-6" href="#B1" x="344"/><use id="k45-7" href="#B1" x="396"/><use id="k45-8" href="#B1" x="448"/><use id="k45-9" href="#B1" x="500"/><use id="k45-10" href="#B1" x="552"/><use id="k45-11" href="#G1" x="604"/></g>
<g id="row46" transform="translate(0,2402)"><use id="k46-1" href="#B2" x="84"/><use id="k46-2" href="#W2" x="136"/><use id="k46-3" href="#B2" x="188"/><use id="k46-4" href="#B2" x="240"/><use id="k46-5" href="#B2" x="292"/><use id="k46-6" href="#B2" x="344"/><use id="k46-7" href="#B2" x="396"/><use id="k46-8" href="#B2" x="448"/><use id="k46-9" href="#B2" x="500"/><use id="k46-10" href="#W2" x="552"/><use id="k46-11" href="#B2" x="604"/></g>
<g id="row47" transform="translate(0,2454)"><use id="k47-1" href="#B1" x="84"/><use id="k47-2" href="#W1" x="136"/><use id="k47-3" href="#W1" x="188"/><use id="k47-4" href="#W1" x="240"/><use id="k47-5" href="#W1" x="292"/><use id="k47-6" href="#W1" x="344"/><use id="k47-7" href="#W1" x="396"/><use id="k47-8" href="#W1" x="448"/><use id="k47-9" href="#W1" x="500"/><use id="k47-10" href="#W1" x="552"/><use id="k47-11" href="#B1" x="604"/></g>
<g id="row48" transform="translate(0,2506)"><use id="k48-1" href="#B2" x="84"/><use id="k48-2" href="#W2" x="136"/><use id="k48-3" href="#W2" x="188"/><use id="k48-4" href="#W2" x="240"/><use id="k48-5" href="#W2" x="292"/><use id="k48-6" href="#W2" x="344"/><use id="k48-7" href="#W2" x="396"/><use id="k48-8" href="#W2" x="448"/><use id="k48-9" href="#W2" x="500"/><use id="k48-10" href="#W2" x="552"/><use id="k48-11" href="#B2" x="604"/></g>
<g id="row49" transform="translate(0,2558)"><use id="k49-1" href="#B1" x="84"/><use id="k49-2" href="#W1" x="136"/><use id="k49-3" href="#W1" x="188"/><use id="k49-4" href="#B1" x="240"/><use id="k49-5" href="#B1" x="292"/><use id="k49-6" href="#W1" x="344"/><use id="k49-7" href="#B1" x="396"/><use id="k49-8" href="#B1" x="448"/><use id="k49-9" href="#W1" x="500"/><use id="k49-10" href="#W1" x="552"/><use id="k49-11" href="#B1" x="604"/></g>
<g id="row50" transform="translate(0,2610)"><use id="k50-1" href="#B2" x="84"/><use id="k50-2" href="#W2" x="136"/><use id="k50-3" href="#W2" x="188"/><use id="k50-4" href="#B2" x="240"/><use id="k50-5" href="#B2" x="292"/><use id="k50-6" href="#W2" x="344"/><use id="k50-7" href="#B2" x="396"/><use id="k50-8" href="#B2" x="448"/><use id="k50-9" href="#W2" x="500"/><use id="k50-10" href="#W2" x="552"/><use id="k50-11" href="#B2" x="604"/></g>
<g id="row51" transform="translate(0,2662)"><use id="k51-1" href="#B1" x="84"/><use id="k51-2" href="#W1" x="136"/><use id="k51-3" href="#W1" x="188"/><use id="k51-4" href="#B1" x="240"/><use id="k51-5" href="#B1" x="292"/><use id="k51-6" href="#B1" x="344"/><use id="k51-7" href="#B1" x="396"/><use id="k51-8" href="#B1" x="448"/><use id="k51-9" href="#W1" x="500"/><use id="k51-10" href="#W1" x="552"/><use id="k51-11" href="#B1" x="604"/></g>
<g id="row52" transform="translate(0,2714)"><use id="k52-1" href="#B2" x="84"/><use id="k52-2" href="#W2" x="136"/><use id="k52-3" href="#W2" x="188"/><use id="k52-4" href="#W2" x="240"/><use id="k52-5" href="#B2" x="292"/><use id="k52-6" href="#B2" x="344"/><use id="k52-7" href="#B2" x="396"/><use id="k52-8" href="#W2" x="448"/><use id="k52-9" href="#W2" x="500"/><use id="k52-10" href="#W2" x="552"/><use id="k52-11" href="#B2" x="604"/></g>
<g id="row53" transform="translate(0,2766)"><use id="k53-1" href="#B1" x="84"/><use id="k53-2" href="#B1" x="136"/><use id="k53-3" href="#B1" x="188"/><use id="k53-4" href="#B1" x="240"/><use id="k53-5" href="#B1" x="292"/><use id="k53-6" href="#B1" x="344"/><use id="k53-7" href="#B1" x="396"/><use id="k53-8" href="#B1" x="448"/><use id="k53-9" href="#B1" x="500"/><use id="k53-10" href="#B1" x="552"/><use id="k53-11" href="#B1" x="604"/></g>
<g id="row54" transform="translate(0,2818)"><use id="k54-1" href="#B2" x="84"/><use id="k54-2" href="#B2" x="136"/><use id="k54-3" href="#B2" x="188"/><use id="k54-4" href="#B2" x="240"/><use id="k54-5" href="#B2" x="292"/><use id="k54-6" href="#P2" x="344"/><use id="k54-7" href="#B2" x="396"/><use id="k54-8" href="#B2" x="448"/><use id="k54-9" href="#B2" x="500"/><use id="k54-10" href="#B2" x="552"/><use id="k54-11" href="#B2" x="604"/></g>
<g id="row55" transform="translate(0,2870)"><use id="k55-1" href="#P1" x="84"/><use id="k55-2" href="#B1" x="136"/><use id="k55-3" href="#B1" x="188"/><use id="k55-4" href="#P1" x="240"/><use id="k55-5" href="#B1" x="292"/><use id="k55-6" href="#B1" x="344"/><use id="k55-7" href="#B1" x="396"/><use id="k55-8" href="#P1" x="448"/><use id="k55-9" href="#B1" x="500"/><use id="k55-10" href="#B1" x="552"/><use id="k55-11" href="#P1" x="604"/></g>
<g id="row56" transform="translate(0,2922)"><use id="k56-1" href="#B2" x="84"/><use id="k56-2" href="#P2" x="136"/><use id="k56-3" href="#P2" x="188"/><use id="k56-4" href="#B2" x="240"/><use id="k56-5" href="#P2" x="292"/><use id="k56-6" href="#B2" x="344"/><use id="k56-7" href="#P2" x="396"/><use id="k56-8" href="#B2" x="448"/><use id="k56-9" href="#P2" x="500"/><use id="k56-10" href="#P2" x="552"/><use id="k56-11" href="#P2" x="604"/></g>
<g id="row57" transform="translate(0,2974)"><use id="k57-1" href="#P1" x="84"/><use id="k57-2" href="#P1" x="136"/><use id="k57-3" href="#B1" x="188"/><use id="k57-4" href="#P1" x="240"/><use id="k57-5" href="#B1" x="292"/><use id="k57-6" href="#P1" x="344"/><use id="k57-7" href="#P1" x="396"/><use id="k57-8" href="#P1" x="448"/><use id="k57-9" href="#P1" x="500"/><use id="k57-10" href="#B1" x="552"/><use id="k57-11" href="#P1" x="604"/></g>
<g id="row58" transform="translate(0,3026)"><use id="k58-1" href="#P2" x="84"/><use id="k58-2" href="#P2" x="136"/><use id="k58-3" href="#P2" x="188"/><use id="k58-4" href="#P2" x="240"/><use id="k58-5" href="#P2" x="292"/><use id="k58-6" href="#P2" x="344"/><use id="k58-7" href="#B2" x="396"/><use id="k58-8" href="#P2" x="448"/><use id="k58-9" href="#P2" x="500"/><use id="k58-10" href="#P2" x="552"/><use id="k58-11" href="#P2" x="604"/></g>
<g id="row59" transform="translate(0,3078)"><use id="k59-1" href="#P1" x="84"/><use id="k59-2" href="#P1" x="136"/><use id="k59-3" href="#P1" x="188"/><use id="k59-4" href="#P1" x="240"/><use id="k59-5" href="#P1" x="292"/><use id="k59-6" href="#P1" x="344"/><use id="k59-7" href="#P1" x="396"/><use id="k59-8" href="#P1" x="448"/><use id="k59-9" href="#P1" x="500"/><use id="k59-10" href="#P1" x="552"/><use id="k59-11" href="#P1" x="604"/></g>
<g id="row60" transform="translate(0,3130)"><use id="k60-1" href="#P2" x="84"/><use id="k60-2" href="#P2" x="136"/><use id="k60-3" href="#P2" x="188"/><use id="k60-4" href="#P2" x="240"/><use id="k60-5" href="#P2" x="292"/><use id="k60-6" href="#P2" x="344"/><use id="k60-7" href="#P2" x="396"/><use id="k60-8" href="#P2" x="448"/><use id="k60-9" href="#P2" x="500"/><use id="k60-10" href="#P2" x="552"/><use id="k60-11" href="#P2" x="604"/></g>
<g id="row61" transform="translate(0,3182)"><use id="k61-1" href="#P1" x="84"/><use id="k61-2" href="#P1" x="136"/><use id="k61-3" href="#P1" x="188"/><use id="k61-4" href="#P1" x="240"/><use id="k61-5" href="#P1" x="292"/><use id="k61-6" href="#P1" x="344"/><use id="k61-7" href="#P1" x="396"/><use id="k61-8" href="#P1" x="448"/><use id="k61-9" href="#P1" x="500"/><use id="k61-10" href="#P1" x="552"/><use id="k61-11" href="#P1" x="604"/></g>
<g id="row62" transform="translate(0,3234)"><use id="k62-1" href="#P2" x="84"/><use id="k62-2" href="#P2" x="136"/><use id="k62-3" href="#P2" x="188"/><use id="k62-4" href="#P2" x="240"/><use id="k62-5" href="#P2" x="292"/><use id="k62-6" href="#P2" x="344"/><use id="k62-7" href="#P2" x="396"/><use id="k62-8" href="#P2" x="448"/><use id="k62-9" href="#P2" x="500"/><use id="k62-10" href="#P2" x="552"/><use id="k62-11" href="#P2" x="604"/></g>
<g id="row63" transform="translate(0,3286)"><use id="k63-1" href="#P1" x="84"/><use id="k63-2" href="#P1" x="136"/><use id="k63-3" href="#P1" x="188"/><use id="k63-4" href="#P1" x="240"/><use id="k63-5" href="#P1" x="292"/><use id="k63-6" href="#P1" x="344"/><use id="k63-7" href="#P1" x="396"/><use id="k63-8" href="#P1" x="448"/><use id="k63-9" href="#P1" x="500"/><use id="k63-10" href="#P1" x="552"/><use id="k63-11" href="#P1" x="604"/></g>
</g>
<g id="strand-labels" class="xl">
<text x="31" y="66.5" fill="#fff">B</text>
<text x="661" y="326.5" fill="#fff" text-anchor="end">C</text>
<text x="661" y="586.5" fill="#fff" text-anchor="end">B</text>
<text x="661" y="638.5" fill="#000" text-anchor="end">A</text>
<text x="31" y="898.5" fill="#000">D</text>
<text x="31" y="1158.5" fill="#fff">C</text>
<text x="661" y="1574.5" fill="#000" text-anchor="end">E</text>
<text x="31" y="1782.5" fill="#000">D</text>
<text x="31" y="2146.5" fill="#fff">F</text>
<text x="661" y="2354.5" fill="#000" text-anchor="end">E</text>
<text x="31" y="2718.5" fill="#000">A</text>
<text x="661" y="2822.5" fill="#fff" text-anchor="end">G</text>
<text x="31" y="3030.5" fill="#fff">F</text>
<text x="661" y="3290.5" fill="#fff" text-anchor="end">G</text>
</g>
<text id="watermark" x="346" y="1707" text-anchor="middle" font-size="18" font-weight="bold" fill="#3c3c3c" stroke="#fff" stroke-width="2" paint-order="stroke" textLength="152" lengthAdjust="spacingAndGlyphs">BRACELETBOOK.COM</text>
</svg>
